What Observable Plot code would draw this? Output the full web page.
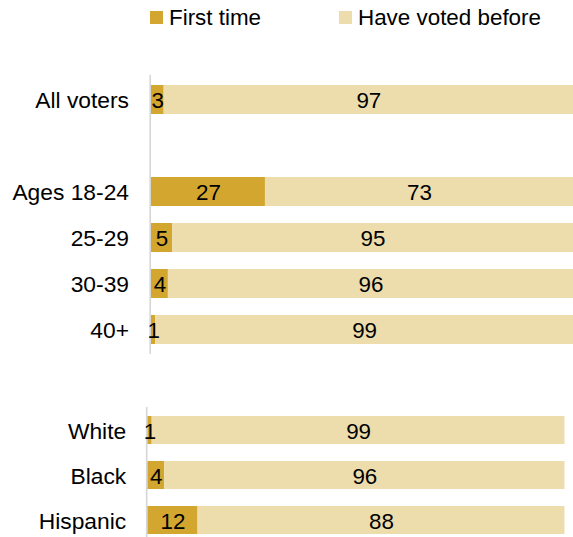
<!DOCTYPE html>
<html>
<head>
<meta charset="utf-8">
<script src="https://cdn.jsdelivr.net/npm/d3@7"></script>
<script src="https://cdn.jsdelivr.net/npm/@observablehq/plot@0.6"></script>
<style>
  html, body { margin: 0; padding: 0; background: #fff; overflow: hidden; }
  #wrap { position: relative; width: 573px; height: 537px; overflow: hidden; font-family: "Liberation Sans", Arial, sans-serif; }
  #legend { position: relative; height: 40px; }
  .sw { position: absolute; top: 11px; width: 12.7px; height: 13px; }
  .lt { position: absolute; top: 5px; font-size: 22.4px; line-height: 25px; color: #000; white-space: nowrap; }
  svg { display: block; }
</style>
</head>
<body>
<div id="wrap">
  <div id="legend"></div>
  <div id="top"></div>
  <div id="bottom"></div>
</div>
<script>
// ---- data ----
const seriesNames = ["First time", "Have voted before"];
const seriesColors = ["#D3A62F", "#EDDDAD"];

const groupsTop = ["All voters", "Ages 18-24", "25-29", "30-39", "40+"];
const firstTop = [3, 27, 5, 4, 1];
const beforeTop = [97, 73, 95, 96, 99];

const groupsBottom = ["White", "Black", "Hispanic"];
const firstBottom = [1, 4, 12];
const beforeBottom = [99, 96, 88];

// ---- legend ----
const legendPos = [{sw: 150, tx: 169}, {sw: 339, tx: 358}];
const legend = document.getElementById("legend");
seriesNames.forEach((name, i) => {
  const s = document.createElement("div");
  s.className = "sw";
  s.style.left = legendPos[i].sw + "px";
  s.style.background = seriesColors[i];
  legend.appendChild(s);
  const t = document.createElement("div");
  t.className = "lt";
  t.style.left = legendPos[i].tx + "px";
  t.textContent = name;
  legend.appendChild(t);
});

function buildRows(groups, first, before) {
  const rows = [];
  groups.forEach((g, i) => {
    rows.push({group: g, series: seriesNames[0], value: first[i], x1: 0, x2: first[i]});
    rows.push({group: g, series: seriesNames[1], value: before[i], x1: first[i], x2: first[i] + before[i]});
  });
  rows.forEach(r => r.mid = (r.x1 + r.x2) / 2);
  return rows;
}

function chart(rows, domain, opts) {
  return Plot.plot({
    width: 573,
    height: opts.height,
    marginLeft: opts.marginLeft,
    marginRight: opts.marginRight,
    marginTop: opts.marginTop,
    marginBottom: opts.marginBottom,
    style: {background: "transparent", fontFamily: "'Liberation Sans', Arial, sans-serif", fontSize: "22.6px", color: "#000", overflow: "visible"},
    x: {domain: [0, 100], axis: null},
    y: {domain, paddingInner: 0.367, paddingOuter: 0.2, axis: null},
    color: {domain: seriesNames, range: seriesColors},
    marks: [
      Plot.ruleX([0], {stroke: "#d6d6d6", strokeWidth: 1.6, dx: -1.3}),
      Plot.barX(rows, {x1: "x1", x2: "x2", y: "group", fill: "series"}),
      Plot.text(rows, {x: "mid", y: "group", text: d => String(d.value), fontSize: 22.4, fill: "#000", dy: 1.2}),
      Plot.axisY({tickSize: 0, tickPadding: opts.tickPadding, dy: 0.8, tickFormat: d => d.startsWith("gap") ? "" : d, fontSize: 22.8, label: null})
    ]
  });
}

const rowsTop = buildRows(groupsTop, firstTop, beforeTop);
const domainTop = [groupsTop[0], "gap", ...groupsTop.slice(1)];
document.getElementById("top").appendChild(chart(rowsTop, domainTop, {
  height: 320, marginLeft: 151, marginRight: 0, marginTop: 34.7, marginBottom: 6, tickPadding: 22.5
}));

const rowsBottom = buildRows(groupsBottom, firstBottom, beforeBottom);
document.getElementById("bottom").appendChild(chart(rowsBottom, groupsBottom, {
  height: 184, marginLeft: 147.5, marginRight: 8.5, marginTop: 47, marginBottom: 0, tickPadding: 21.8
}));
</script>
</body>
</html>
